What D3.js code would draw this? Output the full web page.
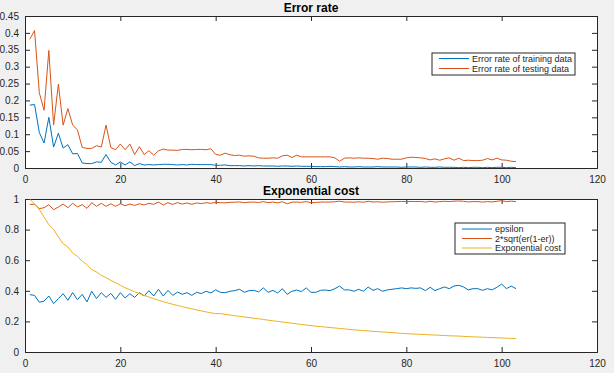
<!DOCTYPE html>
<html>
<head>
<meta charset="utf-8">
<title>Error rate / Exponential cost</title>
<script src="https://d3js.org/d3.v7.min.js"></script>
<style>
  body { margin: 0; background: #f0f0f0; }
  svg { display: block; font-family: "Liberation Sans", Arial, sans-serif; }
  .axis text { font-size: 10px; fill: #262626; }
  .axis path, .axis line { stroke: #262626; stroke-width: 1; }
  .title { font-size: 12px; font-weight: bold; fill: #000; }
  .legend text { font-size: 9px; fill: #262626; }
</style>
</head>
<body>
<div id="chart"></div>
<script>
// ---- data (iteration 1..103) ----
var trainErr = [0.186,0.188,0.105,0.074,0.150,0.062,0.103,0.059,0.069,0.042,
  0.043,0.015,0.013,0.013,0.018,0.017,0.040,0.017,0.009,0.018,
  0.009,0.018,0.007,0.013,0.009,0.010,0.009,0.010,0.011,0.011,
  0.010,0.009,0.010,0.009,0.011,0.010,0.010,0.010,0.010,0.008,
  0.008,0.009,0.007,0.007,0.007,0.006,0.007,0.006,0.007,0.006,
  0.006,0.006,0.005,0.006,0.006,0.005,0.006,0.005,0.005,0.005,
  0.004,0.004,0.004,0.005,0.004,0.003,0.004,0.003,0.003,0.004,
  0.003,0.003,0.003,0.004,0.003,0.003,0.003,0.003,0.002,0.003,
  0.003,0.003,0.002,0.003,0.002,0.002,0.003,0.002,0.002,0.002,
  0.001,0.002,0.001,0.002,0.002,0.001,0.002,0.001,0.002,0.002,
  0.001,0.002,0.001];
var testErr = [0.381,0.407,0.223,0.171,0.348,0.127,0.248,0.127,0.176,0.127,
  0.113,0.061,0.058,0.058,0.066,0.062,0.127,0.061,0.054,0.071,
  0.054,0.071,0.040,0.063,0.040,0.051,0.038,0.051,0.056,0.053,
  0.053,0.052,0.055,0.055,0.054,0.055,0.055,0.054,0.057,0.040,
  0.038,0.044,0.039,0.037,0.038,0.035,0.036,0.035,0.030,0.029,
  0.029,0.030,0.029,0.036,0.038,0.031,0.038,0.033,0.033,0.033,
  0.033,0.033,0.033,0.033,0.030,0.020,0.029,0.030,0.029,0.030,
  0.029,0.029,0.028,0.026,0.029,0.028,0.026,0.026,0.026,0.030,
  0.032,0.031,0.030,0.028,0.024,0.027,0.023,0.027,0.030,0.023,
  0.029,0.022,0.023,0.022,0.022,0.023,0.028,0.024,0.029,0.024,
  0.023,0.020,0.019];
var epsilon = [0.375,0.370,0.325,0.333,0.366,0.316,0.349,0.381,0.338,0.388,
  0.342,0.377,0.327,0.397,0.349,0.388,0.357,0.383,0.344,0.388,
  0.353,0.381,0.357,0.388,0.366,0.401,0.366,0.410,0.366,0.403,
  0.370,0.392,0.377,0.388,0.370,0.390,0.382,0.397,0.386,0.406,
  0.390,0.388,0.397,0.401,0.410,0.390,0.401,0.403,0.393,0.419,
  0.390,0.403,0.386,0.414,0.377,0.397,0.405,0.395,0.419,0.390,
  0.390,0.403,0.405,0.401,0.414,0.431,0.406,0.406,0.397,0.410,
  0.397,0.425,0.403,0.414,0.397,0.406,0.410,0.414,0.419,0.414,
  0.419,0.416,0.419,0.401,0.423,0.401,0.414,0.425,0.414,0.431,
  0.436,0.425,0.406,0.414,0.414,0.403,0.414,0.406,0.423,0.444,
  0.414,0.431,0.414];
var bound = [0.965,0.965,0.937,0.943,0.963,0.930,0.948,0.967,0.943,0.972,
  0.948,0.963,0.939,0.976,0.952,0.972,0.952,0.969,0.952,0.969,
  0.956,0.967,0.958,0.969,0.961,0.972,0.965,0.980,0.961,0.976,
  0.965,0.976,0.967,0.974,0.965,0.974,0.970,0.976,0.972,0.978,
  0.976,0.975,0.978,0.979,0.981,0.976,0.979,0.980,0.977,0.983,
  0.976,0.980,0.975,0.982,0.969,0.979,0.980,0.978,0.983,0.976,
  0.977,0.980,0.980,0.980,0.982,0.986,0.980,0.980,0.979,0.982,
  0.979,0.985,0.980,0.982,0.979,0.981,0.982,0.983,0.984,0.983,
  0.984,0.983,0.984,0.980,0.985,0.980,0.983,0.985,0.983,0.986,
  0.987,0.985,0.981,0.983,0.983,0.980,0.983,0.981,0.985,0.989,
  0.983,0.986,0.983];
var expCost = [0.998,0.969,0.930,0.882,0.832,0.802,0.752,0.708,0.686,0.647,
  0.625,0.593,0.571,0.538,0.523,0.501,0.486,0.468,0.453,0.436,
  0.420,0.407,0.394,0.381,0.370,0.359,0.349,0.338,0.329,0.320,
  0.312,0.304,0.296,0.289,0.282,0.275,0.269,0.262,0.256,0.251,
  0.251,0.246,0.242,0.237,0.233,0.229,0.225,0.221,0.217,0.213,
  0.208,0.204,0.200,0.196,0.192,0.188,0.184,0.180,0.176,0.172,
  0.169,0.166,0.163,0.160,0.157,0.154,0.151,0.148,0.145,0.142,
  0.140,0.138,0.135,0.133,0.131,0.129,0.127,0.124,0.122,0.120,
  0.118,0.117,0.115,0.114,0.112,0.111,0.109,0.108,0.106,0.105,
  0.104,0.102,0.101,0.099,0.098,0.097,0.095,0.094,0.093,0.092,
  0.090,0.089,0.088];

var xTicks = [0, 20, 40, 60, 80, 100, 120];
var yTicksTop = [0, 0.05, 0.1, 0.15, 0.2, 0.25, 0.3, 0.35, 0.4, 0.45];
var yTicksBottom = [0, 0.2, 0.4, 0.6, 0.8, 1];
var legendTop = ["Error rate of training data", "Error rate of testing data"];
var legendBottom = ["epsilon", "2*sqrt(er(1-er))", "Exponential cost"];

var blue = "#0072bd", orange = "#d95319", yellow = "#edb120";

var W = 614, H = 373;
var svg = d3.select("#chart").append("svg").attr("width", W).attr("height", H);

function drawPanel(opt) {
  var x = d3.scaleLinear().domain([0, 120]).range([25, 597]);
  var y = d3.scaleLinear().domain(opt.yDomain).range([opt.bottom, opt.top]);
  var g = svg.append("g");

  g.append("rect")
    .attr("x", 25).attr("y", opt.top)
    .attr("width", 572).attr("height", opt.bottom - opt.top)
    .attr("fill", "#fff");

  // axes, ticks pointing inward like MATLAB
  g.append("g").attr("class", "axis")
    .attr("transform", "translate(0," + opt.bottom + ")")
    .call(d3.axisBottom(x).tickValues(xTicks).tickSize(-5).tickPadding(8).tickFormat(d3.format("d")));
  g.append("g").attr("class", "axis")
    .attr("transform", "translate(0," + opt.top + ")")
    .call(d3.axisTop(x).tickValues(xTicks).tickSize(-5).tickFormat(""));
  g.append("g").attr("class", "axis")
    .attr("transform", "translate(25,0)")
    .call(d3.axisLeft(y).tickValues(opt.yTicks).tickSize(-5).tickPadding(6).tickFormat(d3.format("")));
  g.append("g").attr("class", "axis")
    .attr("transform", "translate(597,0)")
    .call(d3.axisRight(y).tickValues(opt.yTicks).tickSize(-5).tickFormat(""));

  var line = d3.line()
    .x(function(d, i) { return x(i + 1); })
    .y(function(d) { return y(d); });

  opt.series.forEach(function(s) {
    g.append("path")
      .datum(s.values)
      .attr("fill", "none")
      .attr("stroke", s.color)
      .attr("stroke-width", 1)
      .attr("d", line);
  });

  g.append("text").attr("class", "title")
    .attr("x", 311).attr("y", opt.top - 4)
    .attr("text-anchor", "middle")
    .text(opt.title);

  // legend
  var lg = g.append("g").attr("class", "legend");
  var L = opt.legend;
  lg.append("rect")
    .attr("x", L.x).attr("y", L.y).attr("width", L.w).attr("height", L.h)
    .attr("fill", "#fff").attr("stroke", "#262626").attr("stroke-width", 1);
  opt.series.forEach(function(s, i) {
    var cy = L.y + L.first + i * L.step;
    lg.append("line")
      .attr("x1", L.x + 7).attr("x2", L.x + 37)
      .attr("y1", cy).attr("y2", cy)
      .attr("stroke", s.color).attr("stroke-width", 1);
    lg.append("text")
      .attr("x", L.x + 40).attr("y", cy + 3)
      .text(L.labels[i]);
  });
}

drawPanel({
  title: "Error rate",
  top: 16, bottom: 168,
  yDomain: [0, 0.45], yTicks: yTicksTop,
  series: [{values: trainErr, color: blue}, {values: testErr, color: orange}],
  legend: {x: 432, y: 53, w: 143, h: 22, first: 5.5, step: 10, labels: legendTop}
});

drawPanel({
  title: "Exponential cost",
  top: 199, bottom: 352,
  yDomain: [0, 1], yTicks: yTicksBottom,
  series: [{values: epsilon, color: blue}, {values: bound, color: orange}, {values: expCost, color: yellow}],
  legend: {x: 455, y: 223, w: 110, h: 31, first: 6, step: 9.5, labels: legendBottom}
});
</script>
</body>
</html>
